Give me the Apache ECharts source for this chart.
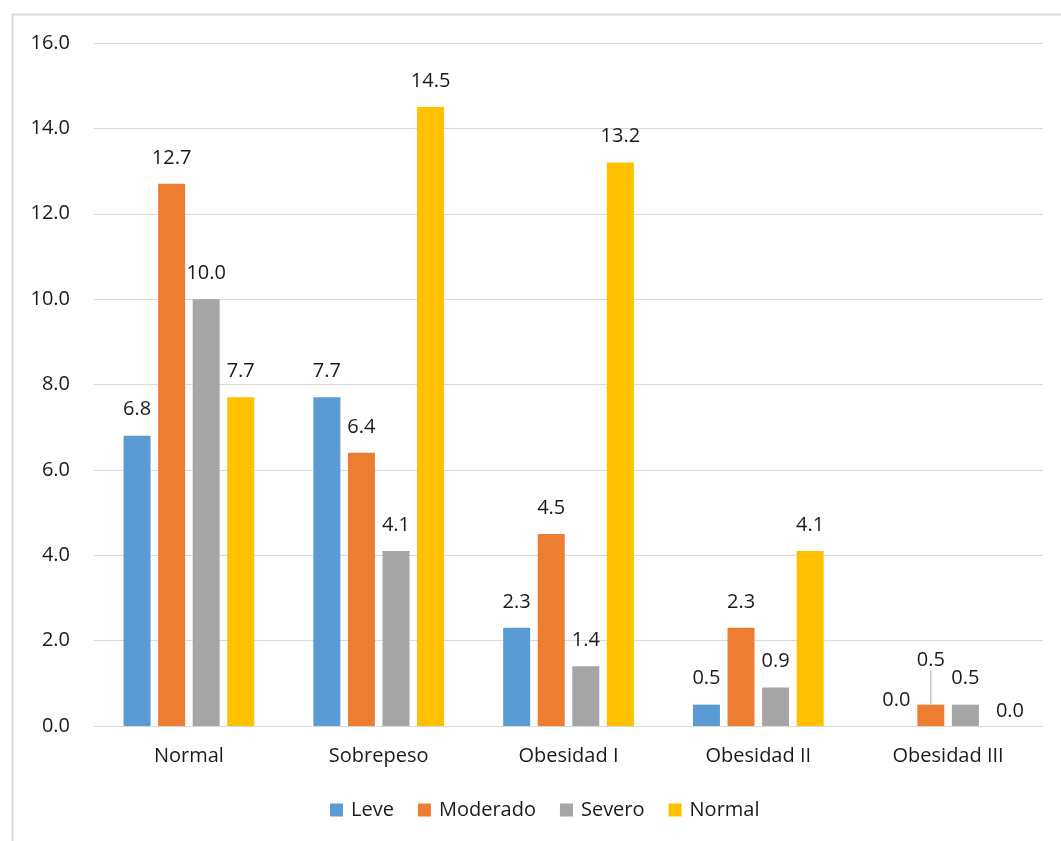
<!DOCTYPE html>
<html>
<head>
<meta charset="utf-8">
<script src="https://cdn.jsdelivr.net/npm/echarts@6/dist/echarts.min.js"></script>
<style>
  html, body { margin: 0; padding: 0; background: #ffffff; }
  #chart { width: 1061px; height: 841px; }
</style>
</head>
<body>
<div id="chart"></div>
<script>
// Categorías de IMC y porcentajes por grado de severidad
const categories = ['Normal', 'Sobrepeso', 'Obesidad I', 'Obesidad II', 'Obesidad III'];
const leve = [6.8, 7.7, 2.3, 0.5, 0.0];
const moderado = [12.7, 6.4, 4.5, 2.3, 0.5];
const severo = [10.0, 4.1, 1.4, 0.9, 0.5];
const normal = [7.7, 14.5, 13.2, 4.1, 0.0];
const yTicks = [0, 2, 4, 6, 8, 10, 12, 14, 16];

const FONT = '"Open Sans", "Noto Sans", sans-serif';
const TEXT = '#1a1a1a';
const FS = 20;

function makeSeries(name, data, color, tweak) {
  return {
    name: name,
    type: 'bar',
    data: data.map((v, i) => {
      const item = { value: v };
      if (tweak && tweak[i]) Object.assign(item, tweak[i]);
      return item;
    }),
    barWidth: 27,
    barGap: '28%',
    itemStyle: { color: color },
    label: {
      show: true,
      position: 'top',
      distance: 16,
      formatter: p => p.value.toFixed(1),
      fontFamily: FONT,
      fontSize: FS,
      color: TEXT
    }
  };
}

const chart = echarts.init(document.getElementById('chart'), null, { renderer: 'canvas' });

const series = [
  makeSeries('Leve', leve, '#5B9BD5'),
  makeSeries('Moderado', moderado, '#ED7D31', {
    4: { labelLine: { show: true, lineStyle: { color: '#a6a6a6', width: 1 } } }
  }),
  makeSeries('Severo', severo, '#A5A5A5'),
  makeSeries('Normal', normal, '#FFC000', {
    4: { label: { offset: [10, 11] } }
  })
];

// La etiqueta de "Moderado" en Obesidad III se sube para no chocar con las vecinas
series[1].labelLayout = function (params) {
  if (params.dataIndex === 4) {
    return { dy: -18 };
  }
  return {};
};

chart.setOption({
  animation: false,
  backgroundColor: '#ffffff',
  textStyle: { fontFamily: FONT },
  graphic: [{
    type: 'rect',
    shape: { x: 12.5, y: 14.5, width: 1100, height: 900 },
    style: { fill: 'none', stroke: '#d9d9d9', lineWidth: 2 },
    silent: true
  }],
  grid: { left: 94, right: 18, top: 43, bottom: 115 },
  legend: {
    top: 795,
    left: 325,
    itemWidth: 13,
    itemHeight: 13,
    itemGap: 24,
    icon: 'rect',
    textStyle: { fontFamily: FONT, fontSize: FS, color: TEXT, padding: [0, 0, 0, 3] },
    data: ['Leve', 'Moderado', 'Severo', 'Normal']
  },
  xAxis: {
    type: 'category',
    data: categories,
    axisTick: { show: false },
    axisLine: { lineStyle: { color: '#d9d9d9', width: 1 } },
    axisLabel: { fontFamily: FONT, fontSize: FS, color: TEXT, margin: 20 }
  },
  yAxis: {
    type: 'value',
    min: yTicks[0],
    max: yTicks[yTicks.length - 1],
    interval: yTicks[1] - yTicks[0],
    axisLine: { show: false },
    axisTick: { show: false },
    splitLine: { lineStyle: { color: '#d9d9d9', width: 1 } },
    axisLabel: {
      fontFamily: FONT, fontSize: FS, color: TEXT, margin: 24,
      formatter: v => v.toFixed(1)
    }
  },
  series: series
});
</script>
</body>
</html>
